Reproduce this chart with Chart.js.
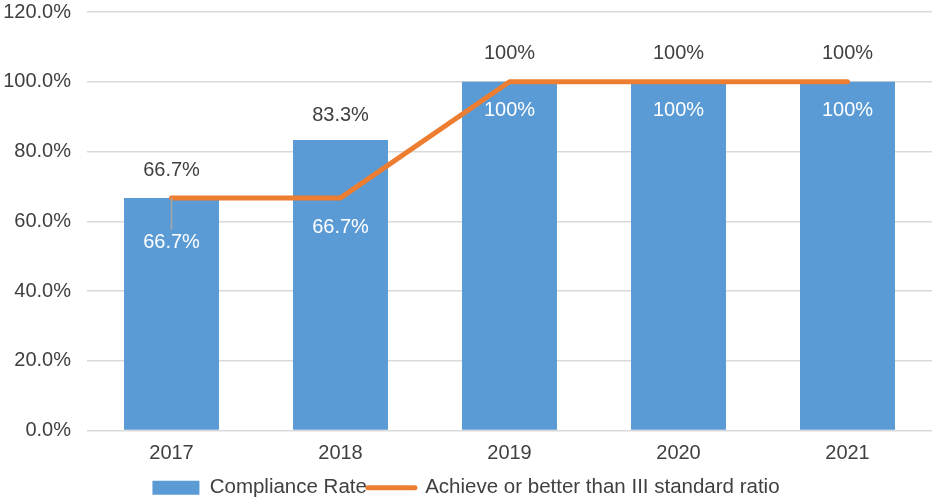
<!DOCTYPE html>
<html>
<head>
<meta charset="utf-8">
<script src="https://cdn.jsdelivr.net/npm/chart.js@4.4.0/dist/chart.umd.min.js"></script>
<style>
html,body{margin:0;padding:0;background:#fff;}
#wrap{width:935px;height:499px;}
</style>
</head>
<body>
<div id="wrap"><canvas id="c"></canvas></div>
<script>
const categories = ['2017', '2018', '2019', '2020', '2021'];
const complianceRate = [66.7, 83.3, 100, 100, 100];
const standardRatio = [66.7, 66.7, 100, 100, 100];
const yTicks = [0, 20, 40, 60, 80, 100, 120];

const FONT = '"Liberation Sans", Arial, Helvetica, sans-serif';
const fmtLabel = v => (v === 100 ? '100%' : v.toFixed(1) + '%');

const valueLabels = {
  id: 'valueLabels',
  afterDatasetsDraw(chart, args, opts) {
    const ctx = chart.ctx;
    ctx.save();
    ctx.font = '20px ' + FONT;
    ctx.textAlign = 'center';
    ctx.textBaseline = 'middle';
    const barMeta = chart.getDatasetMeta(0);
    const lineMeta = chart.getDatasetMeta(1);
    lineMeta.data.forEach((el, i) => {
      const dy = opts.lineOffsets[i];
      const ly = el.y + dy;
      if (dy > 35) {
        ctx.strokeStyle = '#a6a6a6';
        ctx.lineWidth = 1.5;
        ctx.beginPath();
        ctx.moveTo(el.x, el.y);
        ctx.lineTo(el.x, ly - 13);
        ctx.stroke();
      }
      ctx.fillStyle = '#ffffff';
      ctx.fillText(fmtLabel(standardRatio[i]), el.x, ly);
    });
    barMeta.data.forEach((el, i) => {
      ctx.fillStyle = '#404040';
      ctx.fillText(fmtLabel(complianceRate[i]), el.x, el.y - opts.barOffsets[i]);
    });
    ctx.restore();
  }
};

new Chart(document.getElementById('c'), {
  data: {
    labels: categories,
    datasets: [
      {
        type: 'bar',
        label: 'Compliance Rate',
        data: complianceRate,
        backgroundColor: '#5b9bd5',
        borderColor: '#5b9bd5',
        borderWidth: 0,
        categoryPercentage: 1,
        barPercentage: 0.562,
        order: 2
      },
      {
        type: 'line',
        label: 'Achieve or better than III standard ratio',
        data: standardRatio,
        borderColor: '#ed7d31',
        backgroundColor: '#ed7d31',
        borderWidth: 5,
        borderCapStyle: 'round',
        borderJoinStyle: 'round',
        pointRadius: 0,
        tension: 0,
        fill: false,
        order: 1
      }
    ]
  },
  options: {
    responsive: true,
    maintainAspectRatio: false,
    animation: false,
    devicePixelRatio: 1,
    layout: { padding: { top: -3, right: 3, left: 0, bottom: -9 } },
    scales: {
      x: {
        grid: { display: false, drawTicks: false },
        border: { display: false },
        ticks: { color: '#404040', font: { family: FONT, size: 20, lineHeight: 1 }, padding: 13 }
      },
      y: {
        min: 0,
        max: 120,
        afterBuildTicks: s => { s.ticks = yTicks.map(v => ({ value: v })); },
        afterFit: s => { s.width = 87; },
        grid: { color: '#d9d9d9', lineWidth: 1.5, drawTicks: true, tickLength: 16, tickColor: 'rgba(0,0,0,0)' },
        border: { display: false },
        ticks: {
          color: '#404040',
          font: { family: FONT, size: 20 },
          padding: 0,
          callback: v => v.toFixed(1) + '%'
        }
      }
    },
    plugins: {
      tooltip: { enabled: false },
      legend: {
        position: 'bottom',
        labels: {
          color: '#404040',
          font: { family: FONT, size: 20.5 },
          usePointStyle: true,
          pointStyleWidth: 47,
          boxHeight: 14,
          padding: 1,
          sort: (a, b) => a.datasetIndex - b.datasetIndex,
          generateLabels: chart => chart.data.datasets.map((ds, i) => ({
            text: ds.label,
            datasetIndex: i,
            fillStyle: ds.type === 'bar' ? ds.backgroundColor : ds.borderColor,
            strokeStyle: ds.type === 'bar' ? ds.backgroundColor : ds.borderColor,
            lineWidth: ds.type === 'bar' ? 0 : 5,
            lineCap: 'round',
            pointStyle: ds.type === 'bar' ? 'rect' : 'line',
            fontColor: '#404040',
            hidden: false
          }))
        }
      },
      valueLabels: {
        barOffsets: [27, 25, 28, 28, 28],
        lineOffsets: [45, 30, 29, 29, 29]
      }
    }
  },
  plugins: [valueLabels]
});
</script>
</body>
</html>
